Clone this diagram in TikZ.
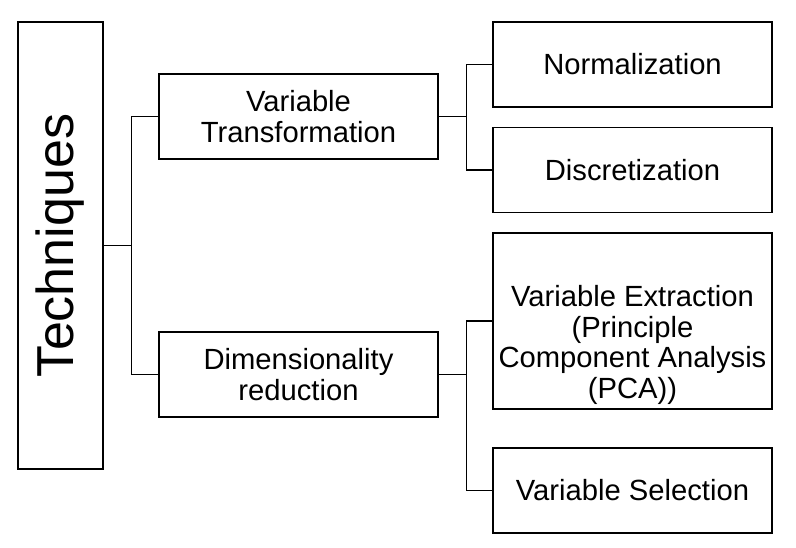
\documentclass[tikz,border=0pt]{standalone}
\usepackage{fontspec}
\setmainfont{Liberation Sans}
\begin{document}
\begin{tikzpicture}[x=1pt,y=-1pt,
  box/.style={draw, line width=1.3pt, inner sep=0pt, align=center,
    minimum width=279pt, minimum height=85pt,
    font=\fontsize{29.2}{30.8}\selectfont},
  txt/.style={inner sep=0pt, align=center, font=\fontsize{29.2}{30.8}\selectfont},
  conn/.style={line width=1.3pt}]
\useasboundingbox (0,0) rectangle (796,547);
\node[box, minimum width=85pt, minimum height=447pt] (tech) at (60.5,245.5)
  {\rotatebox{90}{\fontsize{52}{60}\selectfont Techniques}};
\node[box] (vt) at (298.5,116.5) {Variable\\Transformation};
\node[box] (dr) at (298.5,374.5) {Dimensionality\\reduction};
\node[box] (norm) at (632.5,64.5) {Normalization};
\node[box] (disc) at (632.5,170) {Discretization};
\node[box, minimum height=176pt] (extr) at (632.5,321) {};
\node[txt] (extrtext) at (632.5,345)
  {Variable Extraction\\(Principle\\Component Analysis\\(PCA))};
\node[box] (sel) at (632.5,490.5) {Variable Selection};
\draw[conn] (tech.east) -- ++(28,0) coordinate (j1);
\draw[conn] (vt.west) -| (j1) |- (dr.west);
\draw[conn] (vt.east) -- ++(28,0) coordinate (j2);
\draw[conn] (norm.west) -| (j2) |- (disc.west);
\draw[conn] (dr.east) -- ++(28,0) coordinate (j3);
\draw[conn] (extr.west) -| (j3) |- (sel.west);
\end{tikzpicture}
\end{document}
